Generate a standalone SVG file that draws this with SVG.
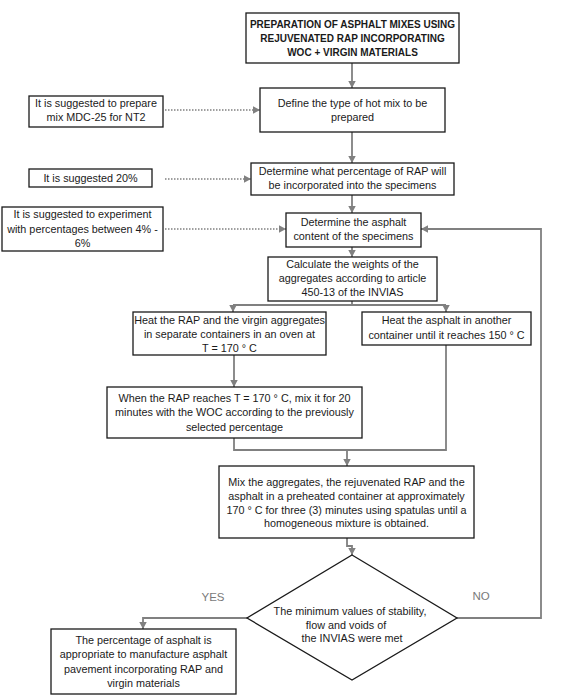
<svg xmlns="http://www.w3.org/2000/svg" width="570" height="696" viewBox="0 0 570 696">
<style>
  .box{fill:#fff;stroke:#1a1a1a;stroke-width:1.3}
  .t{font-family:"Liberation Sans",Arial,sans-serif;font-size:10.8px;fill:#1a1a1a;text-anchor:middle}
  .b{font-weight:bold;font-size:10px}
  .lbl{font-family:"Liberation Sans",Arial,sans-serif;font-size:11.5px;fill:#7a7a7a;text-anchor:middle}
  .c{fill:none;stroke:#808080;stroke-width:1.8;marker-end:url(#ah)}
  .d{fill:none;stroke:#808080;stroke-width:1.4;stroke-dasharray:1.5 1.5;marker-end:url(#ah)}
  .n{fill:none;stroke:#808080;stroke-width:1.8}
</style>
<defs>
  <marker id="ah" markerUnits="userSpaceOnUse" markerWidth="9" markerHeight="9" refX="7" refY="3.75" orient="auto">
    <path d="M0,0 L7,3.75 L0,7.5 z" fill="#808080"/>
  </marker>
</defs>
<rect width="570" height="696" fill="#fff"/>
<g id="connectors">
  <path class="c" d="M352,63 V88"/>
  <path class="c" d="M352,132 V163"/>
  <path class="c" d="M352,195 V213"/>
  <path class="c" d="M352,247 V257"/>
  <path class="d" d="M165,110 H260"/>
  <path class="d" d="M165,179 H251"/>
  <path class="d" d="M165,229 H286"/>
  <path class="n" d="M352,301 V305"/>
  <path class="n" d="M233,305 H446"/>
  <path class="c" d="M233,305 V312"/>
  <path class="c" d="M446,305 V312"/>
  <path class="c" d="M234,355 V387"/>
  <path class="n" d="M234,438 V450 H446 V345"/>
  <path class="c" d="M347,450 V466"/>
  <path class="c" d="M347,538 V546 H352 V555"/>
  <path class="c" d="M457,618 H541 V229 H421"/>
  <path class="c" d="M247,618 H143 V629"/>
</g>
<g id="title">
  <rect class="box" x="246" y="13" width="213" height="50"/>
  <text class="t b" x="352.5" y="28">PREPARATION OF ASPHALT MIXES USING</text>
  <text class="t b" x="352.5" y="42">REJUVENATED RAP INCORPORATING</text>
  <text class="t b" x="352.5" y="56">WOC + VIRGIN MATERIALS</text>
</g>
<g id="note1">
  <rect class="box" x="29" y="96" width="134" height="31"/>
  <text class="t" x="96" y="107">It is suggested to prepare</text>
  <text class="t" x="96" y="121">mix MDC-25 for NT2</text>
</g>
<g id="define">
  <rect class="box" x="260" y="88" width="185" height="44"/>
  <text class="t" x="352.5" y="107">Define the type of hot mix to be</text>
  <text class="t" x="352.5" y="121">prepared</text>
</g>
<g id="note2">
  <rect class="box" x="29" y="169" width="123" height="18"/>
  <text class="t" x="90.5" y="182">It is suggested 20%</text>
</g>
<g id="percentage">
  <rect class="box" x="251" y="163" width="203" height="32"/>
  <text class="t" x="352.5" y="175">Determine what percentage of RAP will</text>
  <text class="t" x="352.5" y="189">be incorporated into the specimens</text>
</g>
<g id="note3">
  <rect class="box" x="2" y="207" width="161" height="44"/>
  <text class="t" x="82.5" y="218">It is suggested to experiment</text>
  <text class="t" x="82.5" y="233">with percentages between 4% -</text>
  <text class="t" x="82.5" y="247">6%</text>
</g>
<g id="content">
  <rect class="box" x="286" y="213" width="135" height="34"/>
  <text class="t" x="353.5" y="226">Determine the asphalt</text>
  <text class="t" x="353.5" y="240">content of the specimens</text>
</g>
<g id="calculate">
  <rect class="box" x="268" y="257" width="169" height="44"/>
  <text class="t" x="352.5" y="268">Calculate the weights of the</text>
  <text class="t" x="352.5" y="282">aggregates according to article</text>
  <text class="t" x="352.5" y="296">450-13 of the INVIAS</text>
</g>
<g id="heat-rap">
  <rect class="box" x="133" y="312" width="193" height="43"/>
  <text class="t" x="229.5" y="324">Heat the RAP and the virgin aggregates</text>
  <text class="t" x="229.5" y="338">in separate containers in an oven at</text>
  <text class="t" x="229.5" y="352">T = 170 ° C</text>
</g>
<g id="heat-asphalt">
  <rect class="box" x="362" y="312" width="169" height="33"/>
  <text class="t" x="446.5" y="324">Heat the asphalt in another</text>
  <text class="t" x="446.5" y="339">container until it reaches 150 ° C</text>
</g>
<g id="when">
  <rect class="box" x="107" y="387" width="255" height="51"/>
  <text class="t" x="234.5" y="402">When the RAP reaches T = 170 ° C, mix it for 20</text>
  <text class="t" x="234.5" y="416">minutes with the WOC according to the previously</text>
  <text class="t" x="234.5" y="431">selected percentage</text>
</g>
<g id="mix">
  <rect class="box" x="219" y="466" width="255" height="72"/>
  <text class="t" x="346.5" y="486">Mix the aggregates, the rejuvenated RAP and the</text>
  <text class="t" x="346.5" y="500">asphalt in a preheated container at approximately</text>
  <text class="t" x="346.5" y="514">170 ° C for three (3) minutes using spatulas until a</text>
  <text class="t" x="346.5" y="527">homogeneous mixture is obtained.</text>
</g>
<g id="decision">
  <polygon class="box" points="352,555 457,618 352,680 247,618"/>
  <text class="t" x="350" y="615">The minimum values of stability,</text>
  <text class="t" x="346" y="629">flow and voids of</text>
  <text class="t" x="352" y="642">the INVIAS were met</text>
</g>
<g id="labels">
  <text class="lbl" x="213" y="601">YES</text>
  <text class="lbl" x="481" y="600">NO</text>
</g>
<g id="result">
  <rect class="box" x="51" y="629" width="185" height="65"/>
  <text class="t" x="143.5" y="644">The percentage of asphalt is</text>
  <text class="t" x="143.5" y="658">appropriate to manufacture asphalt</text>
  <text class="t" x="143.5" y="673">pavement incorporating RAP and</text>
  <text class="t" x="143.5" y="687">virgin materials</text>
</g>
</svg>
